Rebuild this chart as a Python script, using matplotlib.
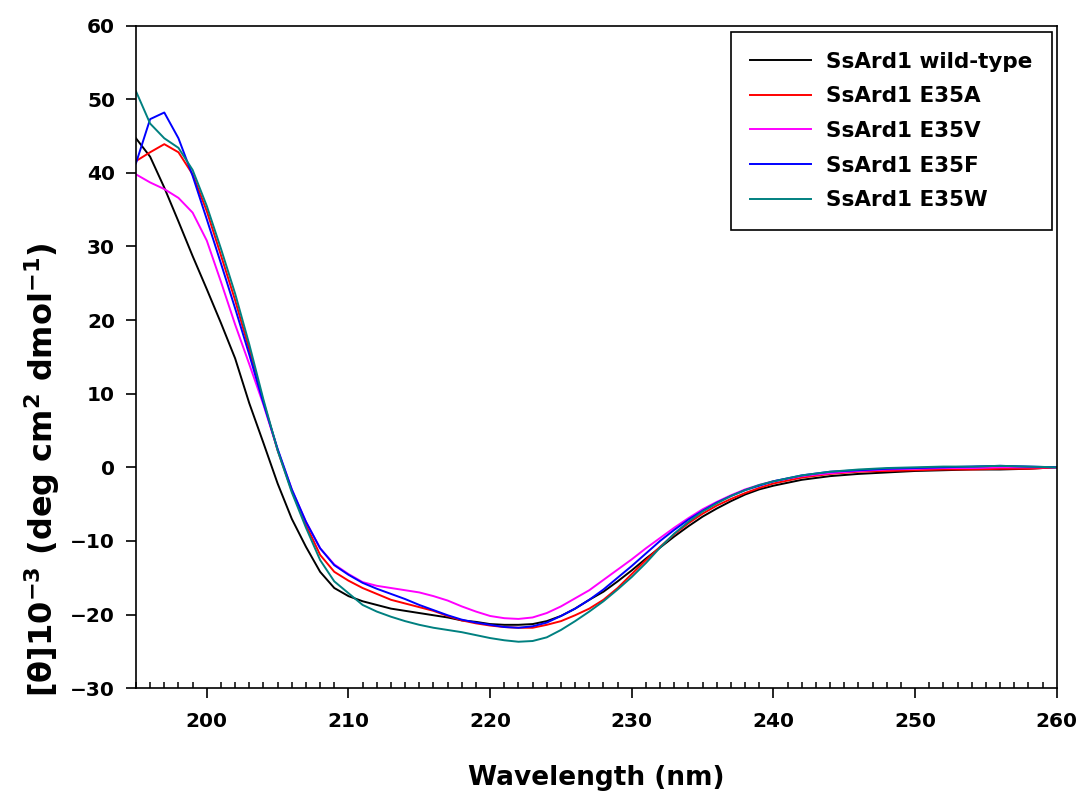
import matplotlib
matplotlib.use("Agg")
import matplotlib.pyplot as plt
from matplotlib.ticker import MultipleLocator

plt.rcParams['font.family'] = ['DejaVu Sans']
plt.rcParams['font.weight'] = 'bold'
plt.rcParams['mathtext.default'] = 'bf'

wavelength = list(range(195, 241)) + list(range(242, 261, 2))

wild_type = [44.7, 42.2, 38.0, 33.4, 28.7, 24.2, 19.6, 14.8, 8.7, 3.3,
             -2.2, -7.0, -10.8, -14.2, -16.4, -17.5, -18.2, -18.7, -19.2, -19.5,
             -19.8, -20.1, -20.4, -20.8, -21.0, -21.3, -21.4, -21.4, -21.3, -20.9,
             -20.2, -19.2, -18.0, -16.9, -15.5, -14.0, -12.4, -10.9, -9.4, -8.0,
             -6.7, -5.6, -4.6, -3.7, -3.0, -2.5,
             -1.7, -1.2, -0.9, -0.7, -0.5, -0.4, -0.3, -0.3, -0.2, 0.0]
e35a = [41.6, 42.8, 43.9, 42.8, 39.8, 34.8, 28.8, 22.7, 16.0, 8.9,
        2.3, -3.2, -7.8, -11.9, -14.2, -15.4, -16.4, -17.2, -18.0, -18.5,
        -19.0, -19.5, -20.2, -20.8, -21.2, -21.5, -21.7, -21.8, -21.8, -21.4,
        -20.9, -20.1, -19.2, -18.0, -16.4, -14.5, -12.6, -10.8, -9.1, -7.6,
        -6.3, -5.2, -4.3, -3.5, -2.8, -2.2,
        -1.4, -0.9, -0.6, -0.5, -0.4, -0.3, -0.3, -0.2, -0.2, 0.0]
e35v = [39.8, 38.7, 37.8, 36.6, 34.6, 30.8, 25.2, 19.4, 14.0, 8.5,
        2.4, -3.0, -7.4, -11.0, -13.2, -14.5, -15.6, -16.1, -16.4, -16.7,
        -17.0, -17.5, -18.1, -18.9, -19.6, -20.2, -20.5, -20.6, -20.4, -19.8,
        -18.9, -17.8, -16.7, -15.3, -13.9, -12.5, -11.0, -9.6, -8.2, -6.9,
        -5.7, -4.7, -3.8, -3.0, -2.4, -1.9,
        -1.2, -0.8, -0.5, -0.3, -0.2, -0.1, -0.1, 0.0, 0.0, 0.0]
e35f = [41.3, 47.3, 48.2, 44.7, 39.6, 33.7, 27.7, 21.6, 15.3, 8.7,
        2.5, -3.0, -7.4, -11.0, -13.3, -14.6, -15.7, -16.5, -17.2, -17.9,
        -18.7, -19.4, -20.1, -20.7, -21.1, -21.4, -21.7, -21.8, -21.6, -21.1,
        -20.2, -19.2, -18.0, -16.6, -15.0, -13.4, -11.7, -10.0, -8.5, -7.1,
        -5.9, -4.8, -3.9, -3.1, -2.5, -1.9,
        -1.1, -0.6, -0.4, -0.2, -0.1, 0.0, 0.1, 0.2, 0.1, 0.0]
e35w = [51.1, 46.7, 44.7, 43.4, 40.4, 35.5, 29.7, 23.6, 16.7, 9.2,
        2.3, -3.4, -8.2, -12.6, -15.5, -17.1, -18.7, -19.6, -20.3, -20.9,
        -21.4, -21.8, -22.1, -22.4, -22.8, -23.2, -23.5, -23.7, -23.6, -23.1,
        -22.1, -20.9, -19.6, -18.2, -16.6, -14.9, -13.0, -10.9, -9.0, -7.4,
        -6.0, -4.9, -3.9, -3.1, -2.4, -1.9,
        -1.1, -0.6, -0.3, -0.1, 0.0, 0.1, 0.1, 0.2, 0.1, 0.0]

labels = ['SsArd1 wild-type', 'SsArd1 E35A', 'SsArd1 E35V', 'SsArd1 E35F', 'SsArd1 E35W']
colors = ['black', '#ff0000', '#ff00ff', '#0000ff', '#008080']
series = [wild_type, e35a, e35v, e35f, e35w]

fig = plt.figure(figsize=(10.85, 8.02), dpi=100)
ax = fig.add_axes([0.1253, 0.142, 0.8487, 0.826])

for y, c, lab in zip(series, colors, labels):
    ax.plot(wavelength, y, color=c, lw=1.4, label=lab)

ax.set_xlim(195, 260)
ax.set_ylim(-30, 60)
ax.set_xticks(range(200, 261, 10))
ax.xaxis.set_minor_locator(MultipleLocator(1))
ax.set_yticks(range(-30, 61, 10))

for s in ax.spines.values():
    s.set_linewidth(1.2)
ax.tick_params(axis='both', which='major', direction='out', length=7, width=1.2, labelsize=14.5)
ax.tick_params(axis='x', which='major', pad=10)
ax.tick_params(axis='y', which='major', pad=8)
ax.tick_params(axis='x', which='minor', direction='in', length=4, width=1.1)

ax.set_xlabel('Wavelength (nm)', fontsize=19, fontweight='bold', labelpad=25)
ax.set_ylabel(r'[θ]10$^{-3}$ (deg cm$^{2}$ dmol$^{-1}$)', fontsize=23, fontweight='bold')
ax.yaxis.set_label_coords(-0.08, 0.33)

leg = ax.legend(loc='upper right', bbox_to_anchor=(0.995, 0.99), fontsize=15.5, frameon=True,
                fancybox=False, edgecolor='black', framealpha=1, handlelength=2.85,
                handletextpad=0.7, labelspacing=0.68, borderpad=0.9, borderaxespad=0)
leg.get_frame().set_linewidth(1.2)
for t in leg.get_texts():
    t.set_fontweight('bold')

fig.savefig('out.png', dpi=100)
